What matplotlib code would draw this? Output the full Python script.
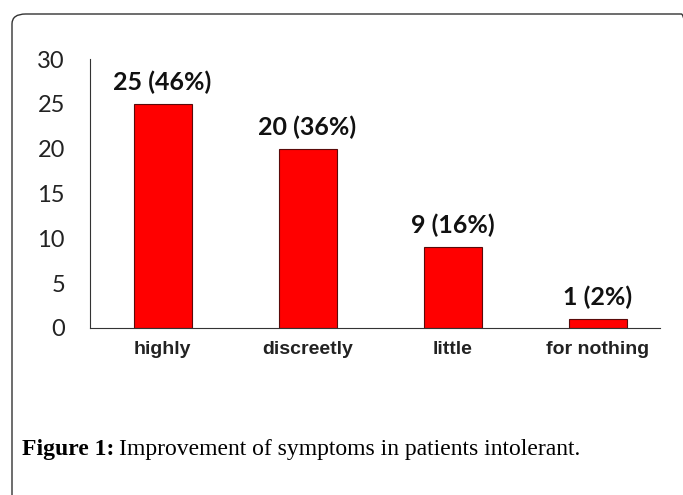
import matplotlib
matplotlib.use("Agg")
import matplotlib.pyplot as plt
from matplotlib.patches import FancyBboxPatch

categories = ["highly", "discreetly", "little", "for nothing"]
counts = [25, 20, 9, 1]
percents = [46, 36, 16, 2]
y_ticks = [0, 5, 10, 15, 20, 25, 30]

fig = plt.figure(figsize=(6.83, 4.95), dpi=100)

# rounded frame around the figure, cut off at right and bottom
frame = FancyBboxPatch((12 / 683, -0.1), 1.0, 1.1 - 14 / 495,
                       boxstyle="round,pad=0,rounding_size=0.02",
                       transform=fig.transFigure, fill=False,
                       edgecolor="#333333", linewidth=1.0)
fig.patches.append(frame)

ax = fig.add_axes([90 / 683, 167 / 495, 570 / 683, 269 / 495])
x = range(len(categories))
ax.bar(x, counts, width=0.4, color="#ff0000", edgecolor="#5a0a0a", linewidth=0.8)

for i, (c, p) in enumerate(zip(counts, percents)):
    ax.text(i, c + 1.1, f"{c} ({p}%)", ha="center", va="bottom",
            fontsize=18, fontweight="bold", family="Lato", color="#111111")

ax.set_xlim(-0.5, 3.43)
ax.set_ylim(0, 30)
ax.set_yticks(y_ticks)
ax.set_yticklabels([str(t) for t in y_ticks], family="Lato", fontsize=17, color="#222222")
ax.set_xticks(list(x))
ax.set_xticklabels(categories, family="Liberation Sans", fontweight="bold",
                   fontsize=14, color="#222222")
ax.tick_params(axis="y", length=0, pad=18)
ax.tick_params(axis="x", length=0, pad=9)
for s in ["top", "right"]:
    ax.spines[s].set_visible(False)
ax.spines["left"].set_color("#333333")
ax.spines["bottom"].set_color("#333333")

cap_y = 1 - 449 / 495
t1 = fig.text(22 / 683, cap_y, "Figure 1:", family="Liberation Serif",
              fontweight="bold", fontsize=17, va="center", ha="left")
fig.canvas.draw()
bb = t1.get_window_extent(fig.canvas.get_renderer())
fig.text((bb.x1 + 5) / 683, cap_y, "Improvement of symptoms in patients intolerant.",
         family="Liberation Serif", fontsize=17, va="center", ha="left")

fig.savefig("out.png", dpi=100)
